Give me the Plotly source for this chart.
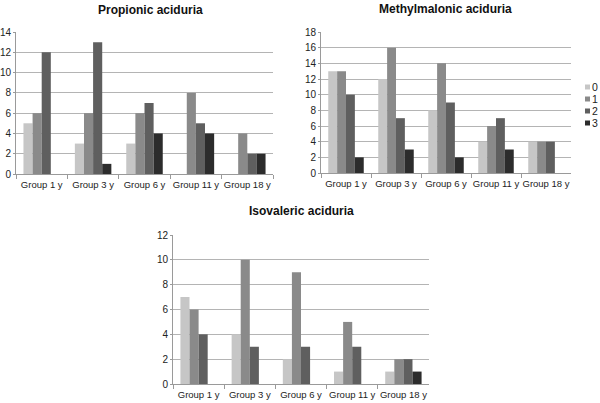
import plotly.graph_objects as go

groups = ["Group 1 y", "Group 3 y", "Group 6 y", "Group 11 y", "Group 18 y"]
series_names = ["0", "1", "2", "3"]
colors = ["#c6c6c6", "#8a8a8a", "#5f5f5f", "#2c2c2c"]

propionic = {
    "0": [5, 3, 3, 0, 0],
    "1": [6, 6, 6, 8, 4],
    "2": [12, 13, 7, 5, 2],
    "3": [0, 1, 4, 4, 2],
}
methylmalonic = {
    "0": [13, 12, 8, 4, 4],
    "1": [13, 16, 14, 6, 4],
    "2": [10, 7, 9, 7, 4],
    "3": [2, 3, 2, 3, 0],
}
isovaleric = {
    "0": [7, 4, 2, 1, 1],
    "1": [6, 10, 9, 5, 2],
    "2": [4, 3, 3, 3, 2],
    "3": [0, 0, 0, 0, 1],
}

titles = ["Propionic aciduria", "Methylmalonic aciduria", "Isovaleric aciduria"]
datasets = [propionic, methylmalonic, isovaleric]
yranges = [(0, 14), (0, 18), (0, 12)]

W, H = 600, 403
def px_x(v):
    return v / W
def px_y(v):
    return 1 - v / H

# plot area pixel boxes: (left, right, top, bottom)
boxes = [(16, 273, 32, 174), (321, 571, 32, 173), (173, 429, 235, 384)]
title_pos = [(150, 10), (445, 9), (301, 211)]

FONT = "Liberation Sans, Arial, sans-serif"
fig = go.Figure()

for i, data in enumerate(datasets):
    suffix = "" if i == 0 else str(i + 1)
    for j, s in enumerate(series_names):
        fig.add_trace(go.Bar(
            x=groups, y=data[s], name=s,
            marker=dict(color=colors[j], line=dict(width=0)),
            xaxis="x" + suffix, yaxis="y" + suffix,
            showlegend=False, legendgroup=s,
        ))

layout = dict(
    width=W, height=H,
    margin=dict(l=0, r=0, t=0, b=0, autoexpand=False),
    paper_bgcolor="white", plot_bgcolor="white",
    barmode="group", bargap=0.29, bargroupgap=0,
    font=dict(family=FONT, size=10, color="#222222"),
    showlegend=False,
)

for i, (l, r, t, b) in enumerate(boxes):
    suffix = "" if i == 0 else str(i + 1)
    layout["xaxis" + suffix] = dict(
        domain=[px_x(l), px_x(r)], anchor="y" + suffix,
        showline=True, linecolor="#9a9a9a", linewidth=1,
        ticks="outside", tickson="boundaries", ticklen=4, tickcolor="#9a9a9a",
        ticklabelstandoff=2,
        showgrid=False, tickangle=0, tickfont=dict(size=9.5, color="#222222"),
        automargin=False, fixedrange=True,
    )
    layout["yaxis" + suffix] = dict(
        domain=[px_y(b), px_y(t)], anchor="x" + suffix,
        range=list(yranges[i]), dtick=2,
        showline=True, linecolor="#9a9a9a", linewidth=1,
        ticks="outside", ticklen=2, tickcolor="#9a9a9a",
        showgrid=True, gridcolor="#b4b4b4", gridwidth=1,
        zeroline=False, tickfont=dict(size=10, color="#222222"),
        automargin=False, fixedrange=True,
    )

fig.update_layout(**layout)

for i, (tx, ty) in enumerate(title_pos):
    fig.add_annotation(
        text="<b>" + titles[i] + "</b>", x=px_x(tx), y=px_y(ty),
        xref="paper", yref="paper",
        xanchor="center", yanchor="middle", showarrow=False,
        font=dict(family=FONT, size=12, color="#111111"),
    )

# legend (drawn manually to match the compact original)
legend_y = [87, 99, 111, 123]
for j, s in enumerate(series_names):
    cy = legend_y[j]
    fig.add_shape(type="rect", xref="paper", yref="paper",
                  x0=px_x(585), x1=px_x(590), y0=px_y(cy + 2.5), y1=px_y(cy - 2.5),
                  fillcolor=colors[j], line=dict(width=0))
    fig.add_annotation(text=s, x=px_x(590.5), y=px_y(cy), xref="paper", yref="paper",
                       xanchor="left", yanchor="middle", showarrow=False,
                       borderpad=0, font=dict(family=FONT, size=10.5, color="#222222"))

fig.write_html("out.html",
               config={"displayModeBar": False, "staticPlot": True},
               post_script="document.body.style.margin='0';document.body.style.overflow='hidden';")
